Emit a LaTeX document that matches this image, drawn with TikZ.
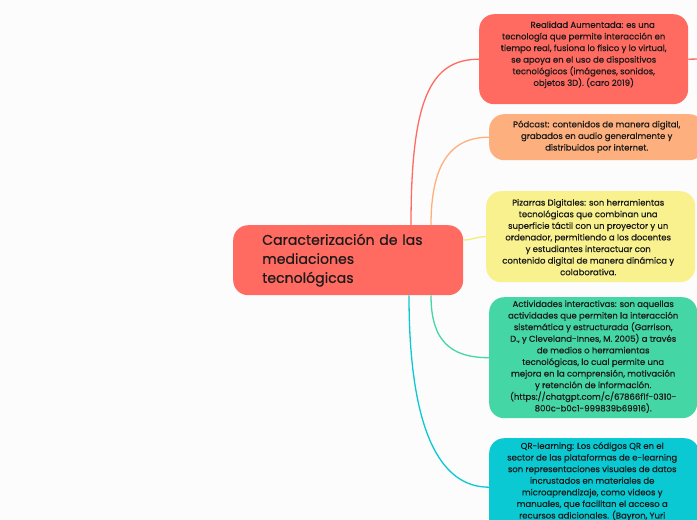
\documentclass[tikz,border=0pt]{standalone}
\usepackage{fontspec}
\setmainfont{Poppins}[FakeBold=0.5]
\usetikzlibrary{calc}
\definecolor{bgc}{HTML}{FCFCFC}
\definecolor{cred}{HTML}{FF6A61}
\definecolor{corange}{HTML}{FDB07E}
\definecolor{cyellow}{HTML}{F8F18E}
\definecolor{cyline}{HTML}{F5EC7E}
\definecolor{cgreen}{HTML}{44D6A5}
\definecolor{ccyan}{HTML}{0AC9D2}
\definecolor{txt}{HTML}{1A1A1A}
\tikzset{
  box/.style={rounded corners=15pt, inner sep=0pt, anchor=north west},
  small/.style={font=\fontsize{8.5}{11.6}\selectfont, text=txt, align=center, inner sep=0pt},
  conn/.style={line width=1.3pt},
}
\begin{document}
\begin{tikzpicture}[x=1pt,y=-1pt]
\useasboundingbox (0,0) rectangle (697,520);
\fill[bgc] (0,0) rectangle (697,520);
\clip (0,0) rectangle (697,520);

\node[box, fill=cred, minimum width=230pt, minimum height=70pt, text width=172pt, align=left, text=txt,
  font=\fontsize{14.1}{19}\selectfont] (c) at (233,225)
  {Caracterización de las\\mediaciones\\tecnológicas};

\node[box, fill=cred, minimum width=209pt, minimum height=90pt] (n1) at (479,14) {};
\node[small] (t1) at ($(n1.center)+(0,-4.5)$)
  {\hspace*{18pt}Realidad Aumentada: es una\\tecnología que permite interacción en\\tiempo real, fusiona lo físico y lo virtual,\\se apoya en el uso de dispositivos\\tecnológicos (imágenes, sonidos,\\objetos 3D). (caro 2019)};

\node[box, fill=corange, minimum width=215pt, minimum height=46pt] (n2) at (489,114) {};
\node[small] (t2) at ($(n2.center)+(0,-0.5)$)
  {Pódcast: contenidos de manera digital,\\grabados en audio generalmente y\\distribuidos por internet.};

\node[box, fill=cyellow, minimum width=209pt, minimum height=91pt] (n3) at (486,191) {};
\node[small] (t3) at ($(n3.center)+(-2.5,0.5)$)
  {Pizarras Digitales: son herramientas\\tecnológicas que combinan una\\superficie táctil con un proyector y un\\ordenador, permitiendo a los docentes\\y estudiantes interactuar con\\contenido digital de manera dinámica y\\colaborativa.};

\node[box, fill=cgreen, minimum width=208pt, minimum height=121pt] (n4) at (489,297) {};
\node[small] (t4) at ($(n4.center)+(0,-1)$)
  {Actividades interactivas: son aquellas\\actividades que permiten la interacción\\sistemática y estructurada (Garrison,\\D., y Cleveland-Innes, M. 2005) a través\\de medios o herramientas\\tecnológicas, lo cual permite una\\mejora en la comprensión, motivación\\y retención de información.\\(https://chatgpt.com/c/67866f1f-0310-\\800c-b0c1-999839b69916).};

\node[box, fill=ccyan, minimum width=210pt, minimum height=98pt] (n5) at (489,438) {};
\node[small, anchor=north] (t5) at ($(n5.north)+(-2,4)$)
  {QR-learning: Los códigos QR en el\\sector de las plataformas de e-learning\\son representaciones visuales de datos\\incrustados en materiales de\\microaprendizaje, como videos y\\manuales, que facilitan el acceso a\\recursos adicionales. (Bayron, Yuri};

\coordinate (n1out) at (700,59);

\draw[conn, cred] ($(c.north west)+(178,0)$) .. controls ($(c.north west)+(178,-125)$) and ($(n1.west)+(-49,0)$) .. (n1.west);
\draw[conn, cred] (n1.east) -- (n1out);
\draw[conn, corange] ($(c.north west)+(198,0)$) .. controls ($(c.north west)+(198,-60)$) and ($(n2.west)+(-39,0)$) .. (n2.west);
\draw[conn, cyline] ($(c.north east)+(0,15)$) .. controls ($(c.north east)+(9,15)$) and ($(n3.west)+(-10,0)$) .. (n3.west);
\draw[conn, cgreen] ($(c.south west)+(198,0)$) .. controls ($(c.south west)+(198,45)$) and ($(n4.west)+(-39,0)$) .. (n4.west);
\draw[conn, ccyan] ($(c.south west)+(176,0)$) .. controls ($(c.south west)+(176,135)$) and ($(n5.west)+(-49,0)$) .. (n5.west);
\end{tikzpicture}
\end{document}
